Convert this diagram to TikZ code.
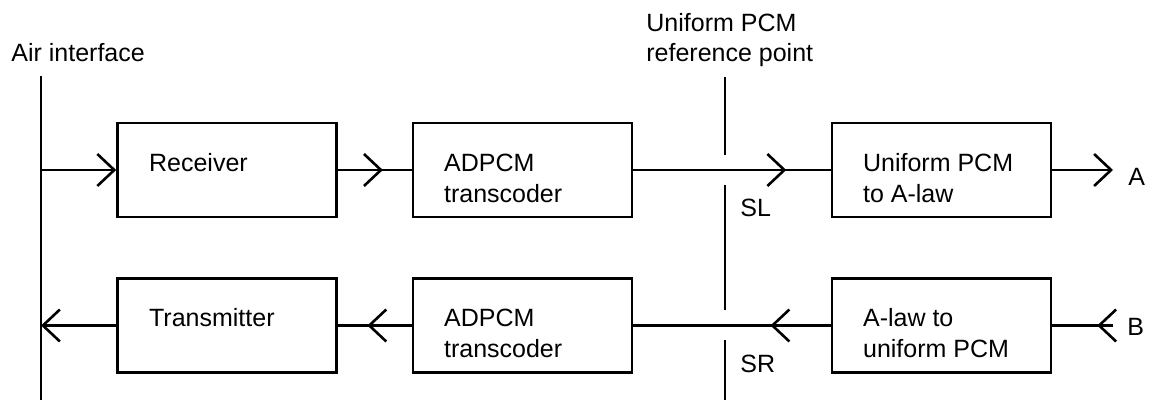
\documentclass[tikz,border=0pt]{standalone}
\usepackage{fontspec}
\setmainfont{Liberation Sans}
\usetikzlibrary{arrows.meta,decorations.markings}
\tikzset{
  wire/.style={line width=1.3pt},
  blk/.style={draw, line width=1.3pt, minimum width=109.5pt, minimum height=47pt, inner sep=0pt},
  lbl/.style={inner sep=0pt, anchor=base west, align=left},
  sig/.style={wire, -{Straight Barb[length=8.5pt,width=16pt]}},
  midarrow/.style={wire, postaction={decorate},
    decoration={markings, mark=at position #1 with {\arrow{Straight Barb[length=8.5pt,width=16pt]}}}}
}
\begin{document}
\begin{tikzpicture}[x=0.5pt, y=-0.5pt, font=\fontsize{12.5}{15.5}\selectfont]
  \useasboundingbox (0,0) rectangle (1152,401);
  % blocks
  \node[blk] (rx) at (227,170) {};
  \node[blk] (ad1) at (522.5,170) {};
  \node[blk] (ua) at (941.5,170) {};
  \node[blk] (tx) at (227,325.5) {};
  \node[blk] (ad2) at (522.5,325.5) {};
  \node[blk] (al) at (941.5,325.5) {};
  % block texts (two-line texts sit on their last baseline)
  \node[lbl] (rxt) at ([xshift=16.25pt,yshift=-0.75pt]rx.west) {Receiver};
  \node[lbl] (ad1t) at ([xshift=16pt,yshift=-16.25pt]ad1.west) {ADPCM\\transcoder};
  \node[lbl] (uat) at ([xshift=16pt,yshift=-16.25pt]ua.west) {Uniform PCM\\to A-law};
  \node[lbl] (txt) at ([xshift=16.25pt,yshift=-0.25pt]tx.west) {Transmitter};
  \node[lbl] (ad2t) at ([xshift=16pt,yshift=-15.75pt]ad2.west) {ADPCM\\transcoder};
  \node[lbl] (alt) at ([xshift=16pt,yshift=-15.75pt]al.west) {A-law to\\uniform PCM};
  % labels
  \node[lbl] (air) at (11,62) {Air interface};
  \node[lbl, font=\fontsize{12.5}{15}\selectfont] (ref) at (646,62) {Uniform PCM\\reference point};
  \node[lbl] (sl) at (740,217) {SL};
  \node[lbl] (sr) at (740,372) {SR};
  \node[lbl] (a) at (1128,185) {A};
  \node[lbl] (b) at (1127,335) {B};
  % interface lines
  \coordinate (airtop) at (41,76);
  \coordinate (airbot) at (41,400);
  \coordinate (airU) at (41,170);
  \coordinate (airL) at (41,325.5);
  \coordinate (outA) at (1113,170);
  \coordinate (inB) at (1113,325.5);
  \draw[wire] (airtop) -- (airbot);
  \foreach \a/\b in {77/155,185/310,340/400}
    \draw[wire] (725,\a) -- (725,\b);
  % upper path
  \draw[sig] (airU) -- (rx.west);
  \draw[midarrow=0.61] (rx.east) -- (ad1.west);
  \draw[midarrow=0.775] (ad1.east) -- (ua.west);
  \draw[sig] (ua.east) -- (outA);
  % lower path
  \draw[midarrow=0.26] (inB) -- (al.east);
  \draw[midarrow=0.305] (al.west) -- (ad2.east);
  \draw[midarrow=0.6] (ad2.west) -- (tx.east);
  \draw[sig] (tx.west) -- (airL);
\end{tikzpicture}
\end{document}
